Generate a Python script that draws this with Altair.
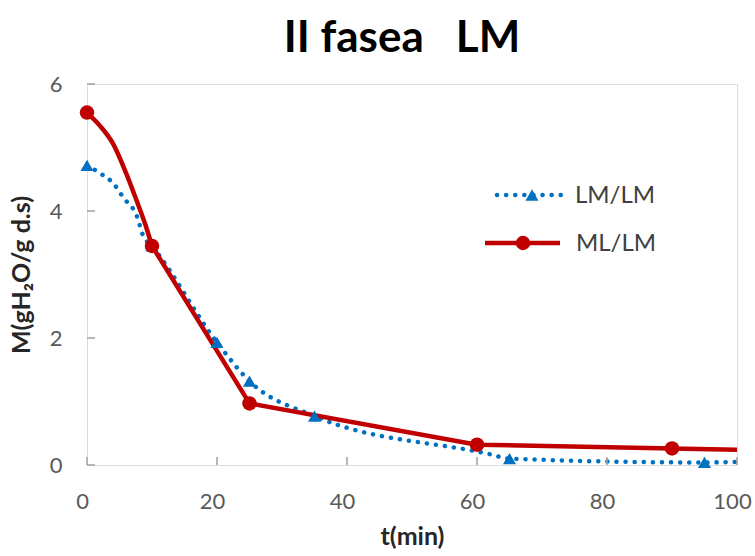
import altair as alt
import pandas as pd

# ---- data ----
lm_t = [0, 10, 20, 25, 35, 65, 95]
lm_M = [4.72, 3.45, 1.93, 1.32, 0.77, 0.10, 0.04]
lm_line_t = [0, 2.2, 4, 5.6, 7.7, 8.6, 10, 20, 25, 35, 62, 65, 95, 100]
lm_line_M = [4.72, 4.58, 4.44, 4.21, 3.91, 3.62, 3.45, 1.93, 1.32, 0.77, 0.17, 0.10, 0.04, 0.05]

ml_t = [0, 10, 25, 60, 90]
ml_M = [5.55, 3.45, 0.97, 0.32, 0.26]
ml_curve_t = [0, 2, 4, 6, 7.5, 9, 10]
ml_curve_M = [5.55, 5.34, 5.06, 4.60, 4.20, 3.78, 3.45]
ml_line_t = [10, 25, 60, 90, 100]
ml_line_M = [3.45, 0.97, 0.32, 0.26, 0.24]

x_ticks = [0, 20, 40, 60, 80, 100]
y_ticks = [0, 2, 4, 6]
legend_labels = ["LM/LM", "ML/LM"]

title_text = "II fasea\u00a0\u00a0\u00a0LM"
x_title = "t(min)"
y_title = "M(gH\u2082O/g d.s)"

BLUE = "#0070C0"
RED = "#C00000"
GREY = "#A0A0A0"
W, H = 650, 381

lm_pts = pd.DataFrame({"t": lm_t, "M": lm_M})
lm_line = pd.DataFrame({"t": lm_line_t, "M": lm_line_M})
ml_pts = pd.DataFrame({"t": ml_t, "M": ml_M})
ml_curve = pd.DataFrame({"t": ml_curve_t, "M": ml_curve_M})
ml_line = pd.DataFrame({"t": ml_line_t, "M": ml_line_M})
xt = pd.DataFrame({"t": x_ticks})
yt = pd.DataFrame({"M": y_ticks})

xs = alt.Scale(domain=[0, 100], nice=False, zero=False)
ys = alt.Scale(domain=[0, 6], nice=False, zero=False)

xaxis = alt.Axis(values=x_ticks, ticks=True, tickSize=24, tickOpacity=0, grid=False, domain=False,
                 labelFlush=False, format="d", labelOffset=-5,
                 labelFont="Lato", labelFontSize=22, labelColor="#595959", labelPadding=2,
                 labelBaseline="top",
                 title=x_title, titleFont="Lato", titleFontSize=25, titleFontWeight="bold",
                 titleColor="#262626", titlePadding=12)
yaxis = alt.Axis(values=y_ticks, ticks=False, tickSize=0, grid=False, domain=False,
                 labelFlush=False, format="d",
                 labelFont="Lato", labelFontSize=22, labelColor="#595959", labelPadding=25,
                 title=y_title, titleFont="Lato", titleFontSize=25, titleFontWeight="bold",
                 titleColor="#262626", titlePadding=15)

X0 = alt.X("t:Q", scale=xs, axis=xaxis)
Y0 = alt.Y("M:Q", scale=ys, axis=yaxis)

# inward ticks
xtick = alt.Chart(xt).mark_rule(color=GREY, strokeWidth=1.5).encode(
    x=X0, y=alt.value(H), y2=alt.value(H - 8))
ytick = alt.Chart(yt).mark_rule(color=GREY, strokeWidth=1.5).encode(
    y=Y0, x=alt.value(0), x2=alt.value(8))

lm_l = alt.Chart(lm_line).mark_line(color=BLUE, strokeWidth=4.5, strokeDash=[0.1, 9],
                                    strokeCap="round", interpolate="monotone").encode(x=X0, y=Y0)
lm_p = alt.Chart(lm_pts).mark_point(shape="triangle-up", filled=True, color=BLUE, size=170,
                                    opacity=1).encode(x=X0, y=Y0)
ml_c = alt.Chart(ml_curve).mark_line(color=RED, strokeWidth=4.5, interpolate="monotone",
                                     strokeCap="round").encode(x=X0, y=Y0)
ml_l = alt.Chart(ml_line).mark_line(color=RED, strokeWidth=4.5, interpolate="linear",
                                    strokeJoin="round").encode(x=X0, y=Y0)
ml_p = alt.Chart(ml_pts).mark_circle(color=RED, size=210, opacity=1).encode(x=X0, y=Y0)

# legend (inside the plot)
lg0 = pd.DataFrame({"label": [legend_labels[0]]})
lg1 = pd.DataFrame({"label": [legend_labels[1]]})
ly0, ly1 = 111, 159
leg = [
    alt.Chart(lg0).mark_rule(color=BLUE, strokeWidth=4.5, strokeDash=[0.1, 9], strokeCap="round").encode(
        x=alt.value(410), x2=alt.value(478), y=alt.value(ly0)),
    alt.Chart(lg0).mark_point(shape="triangle-up", filled=True, color=BLUE, size=170, opacity=1).encode(
        x=alt.value(445), y=alt.value(ly0)),
    alt.Chart(lg0).mark_text(align="left", baseline="middle", font="Lato", fontSize=24, color="#404040").encode(
        x=alt.value(488), y=alt.value(ly0 + 1), text="label:N"),
    alt.Chart(lg1).mark_rule(color=RED, strokeWidth=4.5).encode(
        x=alt.value(398), x2=alt.value(473), y=alt.value(ly1)),
    alt.Chart(lg1).mark_circle(color=RED, size=210, opacity=1).encode(
        x=alt.value(436), y=alt.value(ly1)),
    alt.Chart(lg1).mark_text(align="left", baseline="middle", font="Lato", fontSize=24, color="#404040").encode(
        x=alt.value(489), y=alt.value(ly1 + 1), text="label:N"),
]

chart = alt.layer(lm_l, ml_c, ml_l, lm_p, ml_p, xtick, ytick, *leg).properties(
    width=W, height=H,
    title=alt.TitleParams(title_text, font="Lato", fontSize=44, fontWeight="bold", color="black",
                          anchor="middle", offset=12, dx=-10),
    autosize=alt.AutoSizeParams(type="none"),
    padding={"left": 87, "top": 84, "right": 18, "bottom": 91},
).configure_view(stroke=GREY, strokeWidth=2).configure(background="white")

chart.save("out.html", embed_options={"renderer": "svg", "actions": False})
